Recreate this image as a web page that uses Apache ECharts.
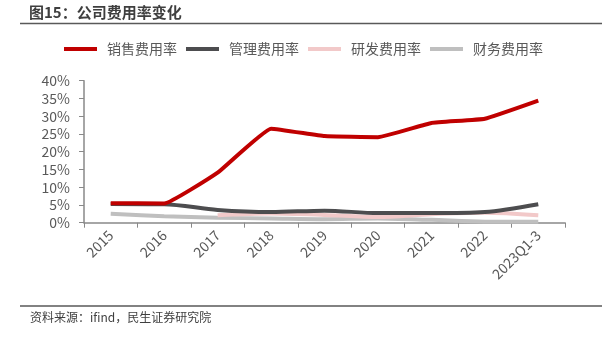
<!DOCTYPE html>
<html><head><meta charset="utf-8">
<script src="https://cdn.jsdelivr.net/npm/echarts@6/dist/echarts.min.js"></script>
<style>html,body{margin:0;padding:0;background:#fff}#c{width:602px;height:338px}</style>
</head><body><div id="c"></div>
<script>
const categories = ['2015','2016','2017','2018','2019','2020','2021','2022','2023Q1-3'];
const seriesNames = ['销售费用率','管理费用率','研发费用率','财务费用率'];
const salesRate = [5.5, 5.4, 14.1, 26.5, 24.4, 24.1, 28.1, 29.3, 34.4];
const adminRate = [5.3, 5.2, 3.6, 3.0, 3.4, 2.7, 2.7, 3.0, 5.2];
const rdRate = [null, null, 2.1, 2.6, 2.2, 1.6, 2.4, 2.8, 2.1];
const finRate = [2.5, 1.8, 1.4, 1.2, 1.0, 1.2, 0.8, 0.3, 0.3];
const yTicks = [0, 5, 10, 15, 20, 25, 30, 35, 40];

const colors = ['#C00000', '#4D4D4F', '#F2C9C9', '#BFBFBF'];
const FONT = '"Noto Sans CJK SC", "Microsoft YaHei", sans-serif';
const chart = echarts.init(document.getElementById('c'));
const data = [salesRate, adminRate, rdRate, finRate];
chart.setOption({
  animation: false,
  color: colors,
  textStyle: {fontFamily: FONT},
  legend: {
    top: 37, left: 59, itemWidth: 33, itemHeight: 4, itemGap: 9,
    icon: 'rect',
    textStyle: {fontSize: 14, color: '#595959', fontFamily: FONT, padding: [0,0,0,5]},
    data: seriesNames
  },
  grid: {left: 84, right: 37, top: 80.7, bottom: 115.3, containLabel: false},
  xAxis: {
    type: 'category', data: categories, boundaryGap: true,
    axisLine: {lineStyle: {color: '#898989', width: 1.5}},
    axisTick: {show: true, lineStyle: {color: '#898989'}, length: 5},
    axisLabel: {rotate: 45, fontSize: 14, color: '#595959', fontFamily: FONT, margin: 10}
  },
  yAxis: {
    type: 'value', min: yTicks[0], max: yTicks[yTicks.length-1], interval: 5,
    axisLine: {show: true, lineStyle: {color: '#898989', width: 1.5}},
    axisTick: {show: true, lineStyle: {color: '#898989'}, length: 5},
    splitLine: {show: false},
    axisLabel: {fontSize: 14, color: '#595959', fontFamily: FONT, formatter: v => v + '%', margin: 14}
  },
  series: seriesNames.map((n, i) => ({
    name: n, type: 'line', data: data[i], symbol: 'none', smooth: i === 0 ? 0.1 : 0.3,
    itemStyle: {color: colors[i]},
    lineStyle: {width: 4, color: colors[i]}, z: 10 - i
  })),
  graphic: [
    {type: 'text', left: 29, top: 5, style: {text: '图15：公司费用率变化', font: 'bold 15px ' + FONT, fill: '#3F3F3F'}},
    {type: 'line', shape: {x1: 20, y1: 23.5, x2: 602, y2: 23.5}, style: {stroke: '#595959', lineWidth: 1.5}},
    {type: 'line', shape: {x1: 20, y1: 306, x2: 602, y2: 306}, style: {stroke: '#595959', lineWidth: 1.5}},
    {type: 'text', left: 30, top: 311, style: {text: '资料来源：ifind，民生证券研究院', font: '12px ' + FONT, fill: '#3F3F3F'}}
  ]
});
</script></body></html>
